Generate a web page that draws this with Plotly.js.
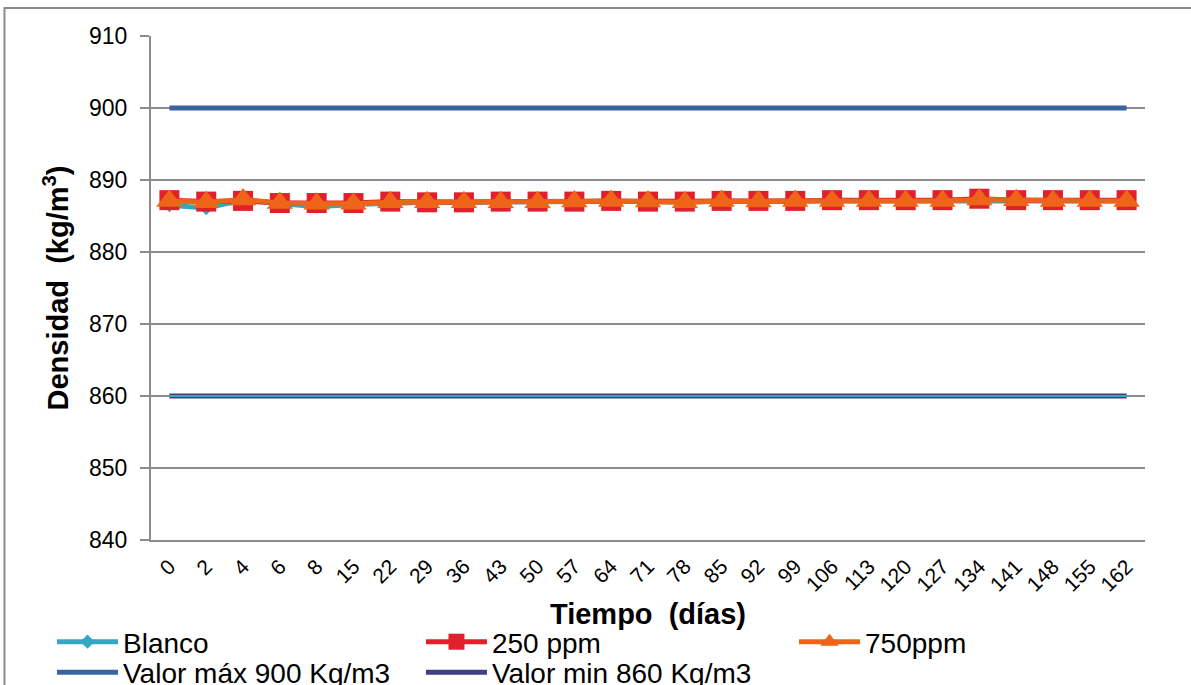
<!DOCTYPE html>
<html>
<head>
<meta charset="utf-8">
<script src="https://cdn.plot.ly/plotly-3.0.1.min.js"></script>
<style>
html,body{margin:0;padding:0;background:#fff;}
#chart{width:1191px;height:685px;}
</style>
</head>
<body>
<div id="chart"></div>
<script>
const dias = ["0","2","4","6","8","15","22","29","36","43","50","57","64","71","78","85","92","99","106","113","120","127","134","141","148","155","162"];
const blanco = [886.5,886.1,887.2,886.8,886.3,886.6,886.8,886.9,886.9,886.9,886.9,887.0,887.1,887.0,886.9,887.1,887.0,887.1,887.1,887.1,887.1,887.1,887.2,887.2,887.1,887.1,887.1];
const ppm250 = [887.2,887.0,887.1,886.8,886.8,886.8,887.0,886.9,886.9,887.0,887.0,887.0,887.1,887.0,887.0,887.1,887.1,887.1,887.2,887.2,887.2,887.2,887.4,887.2,887.2,887.2,887.2];
const ppm750 = [887.1,886.9,887.3,886.8,886.7,886.7,886.9,886.9,886.9,886.9,886.9,887.0,887.1,887.0,886.9,887.1,887.0,887.1,887.1,887.1,887.1,887.1,887.3,887.2,887.1,887.1,887.1];
const valorMax = dias.map(() => 900);
const valorMin = dias.map(() => 860);
const yTicks = [840,850,860,870,880,890,900,910];

const FONT = "Liberation Sans, Arial, sans-serif";

const traces = [
  {x: dias, y: valorMax, name: "Valor máx 900 Kg/m3", mode: "lines",
   line: {color: "#3A64A0", width: 5}, legend: "legend4"},
  {x: dias, y: valorMin, name: "Valor min 860 Kg/m3", mode: "lines",
   line: {color: "#404080", width: 5}, legend: "legend5"},
  {x: dias, y: valorMin, name: "", mode: "lines", showlegend: false, hoverinfo: "skip",
   line: {color: "#3FA3C4", width: 2}},
  {x: dias, y: blanco, name: "Blanco", mode: "lines+markers",
   line: {color: "#37A6C4", width: 5},
   marker: {symbol: "diamond", size: 11, color: "#37A6C4"}, legend: "legend"},
  {x: dias, y: ppm250, name: "250 ppm", mode: "lines+markers",
   line: {color: "#E0202A", width: 5},
   marker: {symbol: "square", size: 20, color: "#E0202A"}, legend: "legend2"},
  {x: dias, y: ppm750, name: "750ppm", mode: "lines+markers",
   line: {color: "#EE6418", width: 5},
   marker: {symbol: "triangle-up", size: 23, color: "#EE6418"}, legend: "legend3"}
];

function leg(x, y) {
  return {
    orientation: "v", x: x, xanchor: "left", y: y, yanchor: "middle",
    font: {family: FONT, size: 28, color: "#000"},
    itemwidth: 61, bgcolor: "rgba(0,0,0,0)", borderwidth: 0
  };
}
const row1 = -0.2024, row2 = -0.2629;
const col1 = -0.0996, col2 = 0.2716, col3 = 0.6469;

const layout = {
  width: 1191, height: 685,
  margin: {l: 151, r: 46, t: 36, b: 145, autoexpand: false},
  paper_bgcolor: "#fff", plot_bgcolor: "#fff",
  font: {family: FONT, color: "#000"},
  showlegend: true,
  legend: leg(col1, row1),
  legend2: leg(col2, row1),
  legend3: leg(col3, row1),
  legend4: leg(col1, row2),
  legend5: leg(col2, row2),
  xaxis: {
    type: "category", categoryarray: dias, categoryorder: "array",
    range: [-0.5, 26.5],
    showgrid: false, zeroline: false,
    showline: true, linecolor: "#8C8C8C", linewidth: 2,
    ticks: "", tickangle: -45, ticklabelstandoff: 4,
    tickfont: {family: FONT, size: 21, color: "#000"},
    title: {text: "Tiempo  (días)", font: {family: FONT, size: 29, color: "#000", weight: "bold"}, standoff: 9}
  },
  yaxis: {
    range: [840, 910], tickvals: yTicks, ticktext: yTicks.map(String),
    showgrid: true, gridcolor: "#8C8C8C", gridwidth: 2,
    zeroline: false,
    showline: true, linecolor: "#8C8C8C", linewidth: 2,
    ticks: "outside", ticklen: 9, tickcolor: "#8C8C8C", tickwidth: 2,
    ticklabelstandoff: 8,
    tickfont: {family: FONT, size: 23, color: "#000"},
    title: {text: "Densidad  (kg/m<sup>3</sup>)", font: {family: FONT, size: 29, color: "#000", weight: "bold"}, standoff: 12}
  },
  shapes: [
    {type: "rect", xref: "paper", yref: "paper",
     x0: -0.1474, x1: 1.06, y0: -0.4, y1: 1.0556,
     line: {color: "#8C8C8C", width: 2}, fillcolor: "rgba(0,0,0,0)", layer: "below"}
  ]
};

Plotly.newPlot("chart", traces, layout, {displayModeBar: false, staticPlot: true});
</script>
</body>
</html>
